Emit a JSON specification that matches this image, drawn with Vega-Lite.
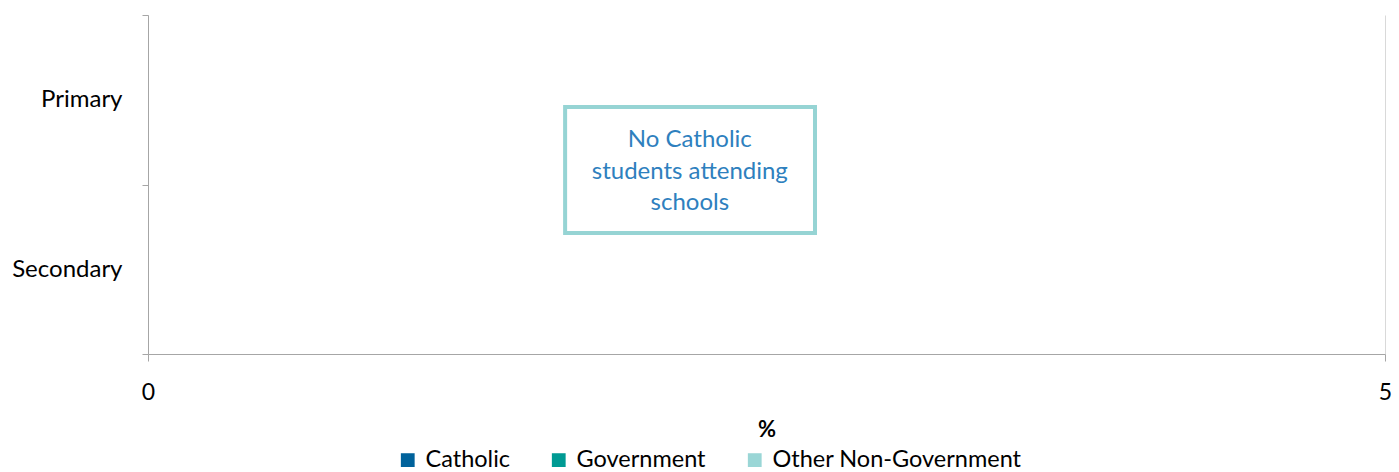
{
  "$schema": "https://vega.github.io/schema/vega-lite/v6.json",
  "width": 1237,
  "height": 339,
  "autosize": {"type": "none"},
  "padding": {"left": 148, "top": 15, "right": 14, "bottom": 118},
  "background": "white",
  "config": {
    "view": {"stroke": null},
    "font": "Lato",
    "axis": {"labelFont": "Lato", "titleFont": "Lato", "labelColor": "#000000", "titleColor": "#000000"},
    "legend": {"labelFont": "Lato"}
  },
  "datasets": {
    "bars": [
      {"level": "Primary", "sector": "Catholic", "pct": 0},
      {"level": "Primary", "sector": "Government", "pct": 0},
      {"level": "Primary", "sector": "Other Non-Government", "pct": 0},
      {"level": "Secondary", "sector": "Catholic", "pct": 0},
      {"level": "Secondary", "sector": "Government", "pct": 0},
      {"level": "Secondary", "sector": "Other Non-Government", "pct": 0}
    ],
    "note": [
      {"note": ["No Catholic", "students attending", "schools"]}
    ]
  },
  "layer": [
    {
      "data": {"name": "bars"},
      "mark": {"type": "bar"},
      "encoding": {
        "y": {
          "field": "level", "type": "nominal",
          "sort": ["Primary", "Secondary"],
          "scale": {"paddingInner": 0, "paddingOuter": 0},
          "axis": {
            "title": null, "tickBand": "extent", "labelFontSize": 24, "labelPadding": 20,
            "tickSize": 6, "tickColor": "#A6A6A6", "domainColor": "#A6A6A6", "grid": false
          }
        },
        "yOffset": {"field": "sector", "type": "nominal", "scale": {"paddingInner": 0.1, "paddingOuter": 0.5}},
        "x": {
          "field": "pct", "type": "quantitative",
          "scale": {"domain": [0, 5], "nice": false},
          "axis": {
            "title": "%", "values": [0, 5], "format": "d", "labelFontSize": 23, "labelPadding": 20,
            "labelFlush": false,
            "tickSize": 7, "tickColor": "#A6A6A6", "domainColor": "#A6A6A6",
            "grid": true, "gridColor": "#D9D9D9",
            "titleFontSize": 22, "titleFontWeight": "bold", "titlePadding": 15
          }
        },
        "color": {
          "field": "sector", "type": "nominal",
          "scale": {"domain": ["Catholic", "Government", "Other Non-Government"], "range": ["#00629B", "#009A93", "#9AD6D6"]},
          "legend": {
            "title": null, "orient": "none", "direction": "horizontal",
            "legendX": 248, "legendY": 433,
            "symbolType": "square", "symbolSize": 190, "symbolStrokeWidth": 0,
            "labelFontSize": 23.5, "labelOffset": 6, "labelLimit": 400, "columnPadding": 37
          }
        }
      }
    },
    {
      "data": {"name": "note"},
      "mark": {"type": "rect", "fill": "white", "stroke": "#96D4D4", "strokeWidth": 4},
      "encoding": {
        "x": {"datum": 1.686, "type": "quantitative"},
        "x2": {"datum": 2.696},
        "y": {"datum": 1.457, "type": "quantitative", "scale": {"domain": [0, 2], "nice": false}, "axis": null},
        "y2": {"datum": 0.714}
      }
    },
    {
      "data": {"name": "note"},
      "mark": {"type": "text", "color": "#2E80BE", "fontSize": 24, "font": "Lato", "lineHeight": 31.5, "align": "center", "baseline": "middle"},
      "encoding": {
        "x": {"datum": 2.19, "type": "quantitative"},
        "y": {"datum": 1.262, "type": "quantitative", "scale": {"domain": [0, 2], "nice": false}, "axis": null},
        "text": {"field": "note", "type": "nominal"}
      }
    }
  ],
  "resolve": {"scale": {"y": "independent"}}
}
